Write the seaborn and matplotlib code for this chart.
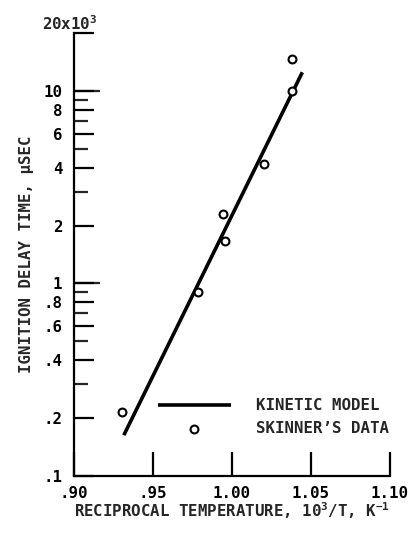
import matplotlib
matplotlib.use("Agg")
import matplotlib.pyplot as plt
import matplotlib.ticker as mticker
import seaborn as sns
import pandas as pd

# ---- data ----
skinner_x = [0.9309, 0.9789, 0.9944, 0.9959, 1.0206, 1.0378, 1.0382]
skinner_y = [0.216, 0.906, 2.29, 1.67, 4.18, 9.95, 14.7]   # x10^3 microseconds
model_x = [0.9318, 1.0446]
model_y = [0.163, 12.5]

x_ticks = [0.90, 0.95, 1.00, 1.05, 1.10]
x_ticklabels = [".90", ".95", "1.00", "1.05", "1.10"]
y_ticks = [0.1, 0.2, 0.4, 0.6, 0.8, 1, 2, 4, 6, 8, 10, 20]
y_ticklabels = [".1", ".2", ".4", ".6", ".8", "1", "2", "4", "6", "8", "10", ""]
y_minor = [0.3, 0.5, 0.7, 0.9, 3, 5, 7, 9]
y_long = [1, 10]
top_label = "20x10$^{3}$"

x_label = "RECIPROCAL TEMPERATURE, 10$^{3}$/T, K$^{-1}$"
y_label = "IGNITION DELAY TIME, \u00b5SEC"
legend_labels = ["KINETIC MODEL", "SKINNER\u2019S DATA"]

# ---- style ----
sns.set_style("ticks")
FONT = "DejaVu Sans Mono"
plt.rcParams["font.family"] = [FONT, "DejaVu Sans"]
plt.rcParams["font.weight"] = "bold"
plt.rcParams["mathtext.default"] = "regular"
FS = 11.3

df_model = pd.DataFrame({"x": model_x, "y": model_y})
df_data = pd.DataFrame({"x": skinner_x, "y": skinner_y})

fig = plt.figure(figsize=(4.12, 5.33), dpi=100)
ax = fig.add_axes([0.1784, 0.1069, 0.9466 - 0.1784, 0.9381 - 0.1069])

sns.lineplot(data=df_model, x="x", y="y", ax=ax, color="black", linewidth=2.6,
             label=legend_labels[0], solid_capstyle="butt")
sns.scatterplot(data=df_data, x="x", y="y", ax=ax, marker="o", s=32,
                facecolor="white", edgecolor="black", linewidth=1.5,
                label=legend_labels[1], zorder=3)

ax.set_yscale("log")
ax.set_xlim(0.90, 1.10)
ax.set_ylim(0.1, 20)

ax.set_xticks(x_ticks)
ax.set_xticklabels(x_ticklabels, fontsize=FS, fontweight="bold")
ax.yaxis.set_major_locator(mticker.FixedLocator(y_ticks))
ax.yaxis.set_major_formatter(mticker.FixedFormatter(y_ticklabels))
ax.yaxis.set_minor_locator(mticker.FixedLocator(y_minor))
ax.yaxis.set_minor_formatter(mticker.NullFormatter())
ax.xaxis.set_minor_locator(mticker.NullLocator())

for s in ("top", "right"):
    ax.spines[s].set_visible(False)
for s in ("left", "bottom"):
    ax.spines[s].set_linewidth(1.6)
    ax.spines[s].set_color("black")

ax.tick_params(axis="x", which="major", direction="in", length=17, width=1.6,
               pad=7, labelsize=FS, colors="black")
ax.tick_params(axis="y", which="major", direction="in", length=14.4, width=1.6,
               pad=8, labelsize=FS, colors="black")
ax.tick_params(axis="y", which="minor", direction="in", length=10, width=1.6)

# longer ticks at the decades
sec = ax.secondary_yaxis("left")
sec.set_yticks(y_long)
sec.yaxis.set_minor_locator(mticker.NullLocator())
sec.tick_params(axis="y", which="major", direction="in", length=18.7, width=1.6,
                labelleft=False)
sec.spines["left"].set_visible(False)

ax.annotate(top_label, xy=(0, 1), xycoords="axes fraction",
            xytext=(-3, 2.5), textcoords="offset points",
            ha="center", va="baseline", fontsize=FS, fontweight="bold")

ax.set_xlabel(x_label, fontsize=FS, fontweight="bold")
ax.set_ylabel(y_label, fontsize=FS, fontweight="bold")
ax.xaxis.set_label_coords(0.5, -0.055)
ax.yaxis.set_label_coords(-0.125, 0.5)

leg = ax.legend(loc="upper left", bbox_to_anchor=(0.268, 0.176), frameon=False,
                prop={"size": FS, "weight": "bold"}, handlelength=4.6,
                handletextpad=1.65, labelspacing=0.5, borderpad=0,
                borderaxespad=0)

fig.savefig("out.png", dpi=100)
